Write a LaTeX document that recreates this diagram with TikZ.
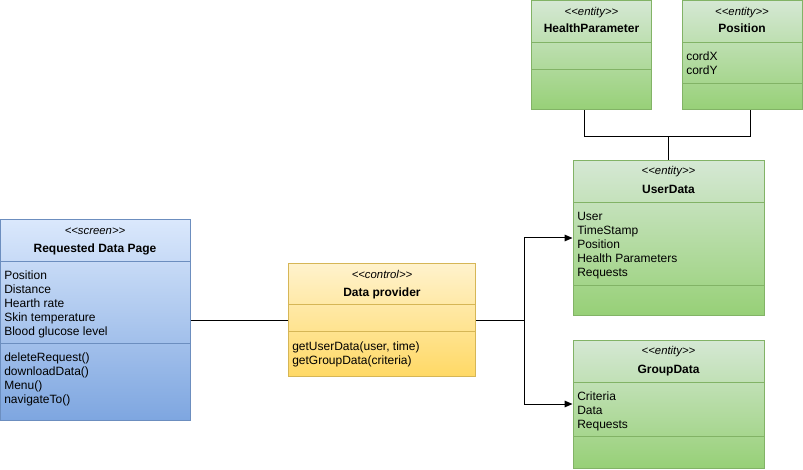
\documentclass[tikz,border=0pt]{standalone}
\usepackage{fontspec}
\setmainfont{Liberation Sans}[Ligatures=TeXOff]
\usetikzlibrary{arrows.meta,positioning,calc}

\definecolor{scrTop}{HTML}{DAE8FC}
\definecolor{scrBot}{HTML}{7EA6E0}
\definecolor{scrLine}{HTML}{6C8EBF}
\definecolor{ctlTop}{HTML}{FFF2CC}
\definecolor{ctlBot}{HTML}{FFD966}
\definecolor{ctlLine}{HTML}{D6B656}
\definecolor{entTop}{HTML}{D5E8D4}
\definecolor{entBot}{HTML}{97D077}
\definecolor{entLine}{HTML}{82B366}

\tikzset{
  umlbox/.style={rectangle, inner sep=0pt, line width=0.75pt},
  screenbox/.style={umlbox, draw=scrLine, top color=scrTop, bottom color=scrBot},
  controlbox/.style={umlbox, draw=ctlLine, top color=ctlTop, bottom color=ctlBot},
  entitybox/.style={umlbox, draw=entLine, top color=entTop, bottom color=entBot},
  stereo/.style={font=\fontsize{8.5}{10}\selectfont\itshape, inner sep=0pt, text height=6.2pt, text depth=0pt},
  cname/.style={font=\fontsize{9}{10.5}\selectfont\bfseries, inner sep=0pt, text height=6.45pt, text depth=0pt},
  member/.style={font=\fontsize{9}{10.5}\selectfont, anchor=west, inner sep=0pt, text height=6.45pt, text depth=0pt},
  sepline/.style={line width=0.75pt},
  link/.style={line width=0.75pt, black},
  toclass/.style={link, -{Triangle[length=6pt, width=5pt]}}
}

\begin{document}
\begin{tikzpicture}[x=0.75pt, y=-0.75pt]
  \fill[white] (0,0) rectangle (803,470);
  \useasboundingbox (0,0) rectangle (803,470);

  % boxes
  \node[screenbox, minimum width=142.5pt, minimum height=150pt] (page) at (95,320) {};
  \node[controlbox, minimum width=140.25pt, minimum height=84pt] (prov) at (382,320) {};
  \node[entitybox, minimum width=90pt, minimum height=82.1pt] (health) at (591.5,55.25) {};
  \node[entitybox, minimum width=90pt, minimum height=82.1pt] (pos) at (742,55.25) {};
  \node[entitybox, minimum width=143.25pt, minimum height=115.5pt] (user) at (668.5,238) {};
  \node[entitybox, minimum width=143.25pt, minimum height=96pt] (group) at (668.5,404) {};

  % compartments
  \draw[sepline, scrLine] ($(page.north west)+(1,42)$) -- ($(page.north east)+(-1,42)$);
  \draw[sepline, scrLine] ($(page.north west)+(1,124)$) -- ($(page.north east)+(-1,124)$);
  \draw[sepline, ctlLine] ($(prov.north west)+(1,41)$) -- ($(prov.north east)+(-1,41)$);
  \draw[sepline, ctlLine] ($(prov.north west)+(1,68)$) -- ($(prov.north east)+(-1,68)$);
  \draw[sepline, entLine] ($(health.north west)+(1,42)$) -- ($(health.north east)+(-1,42)$);
  \draw[sepline, entLine] ($(health.north west)+(1,69)$) -- ($(health.north east)+(-1,69)$);
  \draw[sepline, entLine] ($(pos.north west)+(1,42)$) -- ($(pos.north east)+(-1,42)$);
  \draw[sepline, entLine] ($(pos.north west)+(1,83)$) -- ($(pos.north east)+(-1,83)$);
  \draw[sepline, entLine] ($(user.north west)+(1,42)$) -- ($(user.north east)+(-1,42)$);
  \draw[sepline, entLine] ($(user.north west)+(1,125)$) -- ($(user.north east)+(-1,125)$);
  \draw[sepline, entLine] ($(group.north west)+(1,43)$) -- ($(group.north east)+(-1,43)$);
  \draw[sepline, entLine] ($(group.north west)+(1,97)$) -- ($(group.north east)+(-1,97)$);

  % headers
  \node[stereo] (pageSt) at (95,230) {<<screen>>};
  \node[cname] (pageName) at (95,248) {Requested Data Page};
  \node[stereo] (provSt) at (382,274) {<<control>>};
  \node[cname] (provName) at (382,292) {Data provider};
  \node[stereo] (healthSt) at (591.5,11) {<<entity>>};
  \node[cname] (healthName) at (591.5,28) {HealthParameter};
  \node[stereo] (posSt) at (742,11) {<<entity>>};
  \node[cname] (posName) at (742,28) {Position};
  \node[stereo] (userSt) at (668.5,170) {<<entity>>};
  \node[cname] (userName) at (668.5,189) {UserData};
  \node[stereo] (groupSt) at (668.5,350) {<<entity>>};
  \node[cname] (groupName) at (668.5,369) {GroupData};

  % members
  \foreach \t [count=\i] in {Position, Distance, Hearth rate, Skin temperature, Blood glucose level}
    \node[member] (pageA\i) at (4,261+14*\i) {\t};
  \foreach \t [count=\i] in {deleteRequest(), downloadData(), Menu(), navigateTo()}
    \node[member] (pageM\i) at (4,343+14*\i) {\t};
  \foreach \t [count=\i] in {{getUserData(user, time)}, getGroupData(criteria)}
    \node[member] (provM\i) at (292,332+14*\i) {\t};
  \foreach \t [count=\i] in {cordX, cordY}
    \node[member] (posA\i) at (686,42+14*\i) {\t};
  \foreach \t [count=\i] in {User, TimeStamp, Position, Health Parameters, Requests}
    \node[member] (userA\i) at (577,202+14*\i) {\t};
  \foreach \t [count=\i] in {Criteria, Data, Requests}
    \node[member] (groupA\i) at (577,382+14*\i) {\t};

  % connectors
  \coordinate (split) at (524,320);
  \coordinate (join) at ($(user.north)+(0,-24)$);
  \draw[link] (page) -- (prov);
  \draw[link] (prov) -- (split);
  \draw[toclass] (split) |- (user);
  \draw[toclass] (split) |- (group);
  \draw[link] ($(health.south)+(-7,0)$) |- (join) -| ($(pos.south)+(8,0)$);
  \draw[link] (join) -- (user.north);
\end{tikzpicture}
\end{document}
